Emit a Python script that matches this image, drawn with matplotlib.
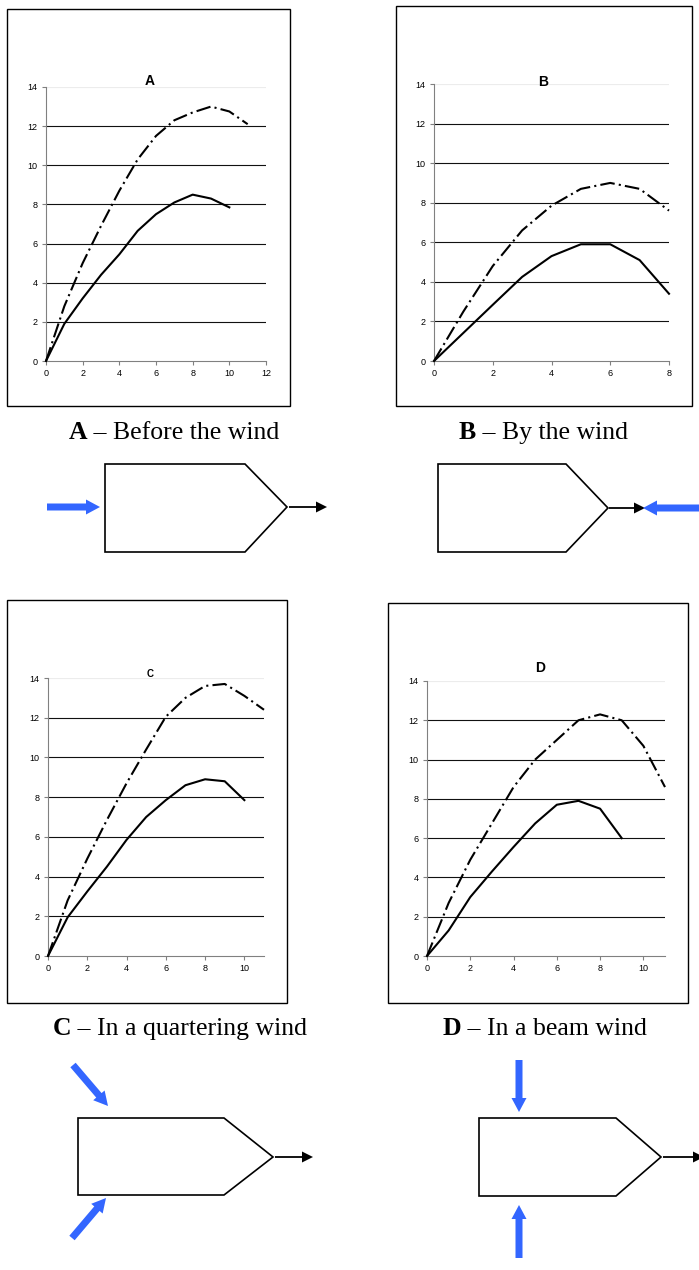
import numpy as np
import matplotlib
matplotlib.use("Agg")
import matplotlib.pyplot as plt
from matplotlib.patches import Polygon, Rectangle, FancyArrow

W, H = 699, 1270

# speed curves (solid line and dash-dot line)
xa_solid = [0, 1, 2, 3, 4, 5, 6, 7, 8, 9, 10]
ya_solid = [0, 1.9, 3.2, 4.4, 5.45, 6.65, 7.5, 8.1, 8.5, 8.3, 7.85]
xa_dash = [0, 1, 2, 3, 4, 5, 6, 7, 8, 9, 10, 11]
ya_dash = [0, 2.8, 5.0, 6.9, 8.7, 10.3, 11.5, 12.3, 12.7, 13.0, 12.75, 12.1]

xb_solid = [0, 1, 2, 3, 4, 5, 6, 7, 8]
yb_solid = [0, 1.42, 2.84, 4.25, 5.3, 5.9, 5.9, 5.1, 3.4]
xb_dash = [0, 1, 2, 3, 4, 5, 6, 7, 8]
yb_dash = [0, 2.5, 4.8, 6.6, 7.85, 8.7, 9.0, 8.7, 7.6]

xc_solid = [0, 1, 2, 3, 4, 5, 6, 7, 8, 9, 10]
yc_solid = [0, 1.95, 3.25, 4.5, 5.85, 7.0, 7.85, 8.6, 8.9, 8.8, 7.85]
xc_dash = [0, 1, 2, 3, 4, 5, 6, 7, 8, 9, 10, 11]
yc_dash = [0, 2.8, 4.9, 6.85, 8.7, 10.4, 12.05, 13.0, 13.6, 13.7, 13.1, 12.4]

xd_solid = [0, 1, 2, 3, 4, 5, 6, 7, 8, 9]
yd_solid = [0, 1.3, 3.0, 4.3, 5.55, 6.75, 7.7, 7.9, 7.5, 6.0]
xd_dash = [0, 1, 2, 3, 4, 5, 6, 7, 8, 9, 10, 11]
yd_dash = [0, 2.7, 4.9, 6.75, 8.6, 10.0, 11.0, 12.0, 12.3, 12.0, 10.7, 8.6]

letters = ["A", "B", "C", "D"]
captions = [" – Before the wind", " – By the wind", " – In a quartering wind", " – In a beam wind"]
yticks = [0, 2, 4, 6, 8, 10, 12, 14]


def fig_box(l, t, r, b):
    return [l / W, 1 - b / H, (r - l) / W, (b - t) / H]


fig = plt.figure(figsize=(W / 100, H / 100), dpi=100)

# overlay in pixel units for frames, boats and arrows
over = fig.add_axes([0, 0, 1, 1])
over.set_xlim(0, W)
over.set_ylim(H, 0)
over.axis("off")

frames = [(7, 9, 290, 406), (396, 6, 692, 406), (7, 600, 287, 1003), (388, 603, 688, 1003)]
for l, t, r, b in frames:
    over.add_patch(Rectangle((l, t), r - l, b - t, fill=False, ec="black", lw=1.0))

panels = [
    dict(box=(46, 87, 266, 361), xlim=12, xt=[0, 2, 4, 6, 8, 10, 12], s=(xa_solid, ya_solid),
         d=(xa_dash, ya_dash), title=(150, 81, 10)),
    dict(box=(434, 84, 669, 361), xlim=8, xt=[0, 2, 4, 6, 8], s=(xb_solid, yb_solid),
         d=(xb_dash, yb_dash), title=(543, 82, 10)),
    dict(box=(48, 678, 264, 956), xlim=11, xt=[0, 2, 4, 6, 8, 10], s=(xc_solid, yc_solid),
         d=(xc_dash, yc_dash), title=(150, 674, 7)),
    dict(box=(427, 681, 665, 956), xlim=11, xt=[0, 2, 4, 6, 8, 10], s=(xd_solid, yd_solid),
         d=(xd_dash, yd_dash), title=(540, 668, 10)),
]

for i, p in enumerate(panels):
    ax = fig.add_axes(fig_box(*p["box"]))
    ax.set_facecolor("none")
    ax.set_xlim(0, p["xlim"])
    ax.set_ylim(0, 14)
    ax.set_xticks(p["xt"])
    ax.set_yticks(yticks)
    for v in yticks[1:-1]:
        ax.axhline(v, color="#111111", lw=0.8, zorder=1)
    ax.axhline(14, color="#ececec", lw=0.8, zorder=1)
    ax.plot(*p["s"], color="black", lw=1.5, zorder=3, clip_on=False)
    ax.plot(*p["d"], color="black", lw=1.5, linestyle=(0, (7, 2, 1, 2)), zorder=3, clip_on=False)
    for side in ["top", "right"]:
        ax.spines[side].set_visible(False)
    for side in ["left", "bottom"]:
        ax.spines[side].set_color("#808080")
        ax.spines[side].set_linewidth(0.8)
    ax.tick_params(direction="out", length=3, width=0.8, color="#808080",
                   labelsize=6.5, pad=3)
    for lab in ax.get_xticklabels() + ax.get_yticklabels():
        lab.set_fontfamily("Liberation Sans")
    # panel letter drawn at figure level so it sits above the faint top line
    tx, ty, fs = p["title"]
    fig.text(tx / W, 1 - ty / H, letters[i], ha="center", va="center", fontsize=fs,
             fontweight="bold", family="Liberation Sans")

# captions: bold letter + plain text
cap_pos = [(87, 439), (476, 439), (71, 1035), (461, 1035)]
for i, (x, y) in enumerate(cap_pos):
    over.text(x, y, letters[i], ha="right", va="baseline", fontsize=18.5,
              fontweight="bold", family="Liberation Serif")
    over.text(x, y, captions[i], ha="left", va="baseline", fontsize=18.5,
              family="Liberation Serif")

# boats
boats = [
    [(105, 464), (245, 464), (287, 507), (245, 552), (105, 552)],
    [(438, 464), (566, 464), (608, 508), (566, 552), (438, 552)],
    [(78, 1118), (224, 1118), (273, 1157), (224, 1195), (78, 1195)],
    [(479, 1118), (616, 1118), (661, 1157), (616, 1196), (479, 1196)],
]
for pts in boats:
    over.add_patch(Polygon(pts, closed=True, fill=False, ec="black", lw=1.2, joinstyle="miter"))

# heading arrows (black)
heads = [((289, 507), (327, 507)), ((609, 508), (645, 508)),
         ((275, 1157), (313, 1157)), ((663, 1157), (704, 1157))]
for (x0, y0), (x1, y1) in heads:
    over.add_patch(FancyArrow(x0, y0, x1 - x0, y1 - y0, width=1.8, head_width=11,
                              head_length=11, length_includes_head=True,
                              color="black", lw=0))

# wind arrows (blue)
winds = [((47, 507), (100, 507)), ((699, 508), (643, 508)),
         ((73, 1065), (108, 1106)), ((72, 1238), (106, 1198)),
         ((519, 1060), (519, 1112)), ((519, 1258), (519, 1205))]
for (x0, y0), (x1, y1) in winds:
    over.add_patch(FancyArrow(x0, y0, x1 - x0, y1 - y0, width=7, head_width=15,
                              head_length=14, length_includes_head=True,
                              color="#3366ff", lw=0))

fig.savefig("out.png", dpi=100)
